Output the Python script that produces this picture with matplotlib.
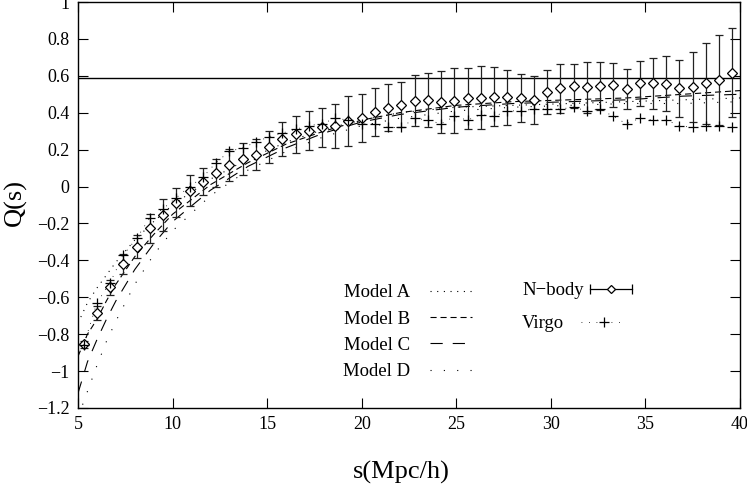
import matplotlib
matplotlib.use('Agg')
import numpy as np
import matplotlib.pyplot as plt
from matplotlib.lines import Line2D
from matplotlib.legend_handler import HandlerLine2D, HandlerTuple

plt.rcParams['font.family'] = ['Liberation Serif', 'DejaVu Serif']

# N-body measurements (separation bins, Q and 1-sigma errors)
s_bins = [5.3, 6.0, 6.7, 7.4, 8.1, 8.8, 9.5, 10.2, 10.9, 11.6,
          12.3, 13.0, 13.7, 14.4, 15.1, 15.8, 16.5, 17.2, 17.9, 18.6,
          19.3, 20.0, 20.7, 21.4, 22.1, 22.8, 23.5, 24.2, 24.9, 25.6,
          26.3, 27.0, 27.7, 28.4, 29.1, 29.8, 30.5, 31.2, 31.9, 32.6,
          33.3, 34.0, 34.7, 35.4, 36.1, 36.8, 37.5, 38.2, 38.9, 39.6]
q_nbody = [-0.855, -0.685, -0.545, -0.418, -0.326, -0.227, -0.154, -0.087, -0.022, 0.026,
           0.073, 0.117, 0.150, 0.172, 0.216, 0.259, 0.284, 0.303, 0.321, 0.330,
           0.357, 0.370, 0.404, 0.427, 0.442, 0.465, 0.469, 0.458, 0.465, 0.478,
           0.481, 0.487, 0.484, 0.478, 0.469, 0.511, 0.532, 0.545, 0.538, 0.545,
           0.550, 0.527, 0.559, 0.559, 0.556, 0.532, 0.541, 0.559, 0.577, 0.617]
err_nbody = [0.02, 0.04, 0.04, 0.055, 0.063, 0.077, 0.088, 0.08, 0.083, 0.073,
             0.075, 0.085, 0.085, 0.083, 0.086, 0.093, 0.10, 0.104, 0.107, 0.12,
             0.136, 0.13, 0.13, 0.128, 0.122, 0.139, 0.148, 0.17, 0.176, 0.167,
             0.17, 0.16, 0.15, 0.13, 0.128, 0.118, 0.133, 0.12, 0.137, 0.131,
             0.121, 0.108, 0.12, 0.14, 0.149, 0.155, 0.19, 0.22, 0.246, 0.24]

# Virgo simulation
q_virgo = [-0.86, -0.63, -0.52, -0.37, -0.28, -0.17, -0.12, -0.06, 0.00, 0.05,
           0.13, 0.19, 0.21, 0.24, 0.27, 0.29, 0.31, 0.33, 0.34, 0.37,
           0.36, 0.34, 0.34, 0.32, 0.32, 0.37, 0.36, 0.34, 0.38, 0.36,
           0.39, 0.38, 0.41, 0.41, 0.42, 0.42, 0.42, 0.43, 0.41, 0.42,
           0.38, 0.34, 0.37, 0.36, 0.36, 0.33, 0.32, 0.33, 0.33, 0.32]

# Model curves
s_model = [5.0, 5.5, 6.0, 6.5, 7.0, 8.0, 9.0, 10.0, 12.0, 14.0,
           16.0, 18.0, 20.0, 22.0, 25.0, 28.0, 31.0, 34.0, 37.0, 40.0]
q_model_a = [-0.74, -0.63, -0.55, -0.48, -0.41, -0.29, -0.19, -0.10, 0.04, 0.15,
             0.24, 0.31, 0.36, 0.40, 0.43, 0.44, 0.45, 0.46, 0.47, 0.48]
q_model_b = [-0.92, -0.80, -0.72, -0.62, -0.53, -0.38, -0.26, -0.15, 0.01, 0.13,
             0.23, 0.30, 0.36, 0.40, 0.44, 0.46, 0.47, 0.48, 0.50, 0.52]
q_model_c = [-1.12, -0.95, -0.83, -0.72, -0.62, -0.45, -0.31, -0.19, -0.02, 0.11,
             0.21, 0.29, 0.35, 0.39, 0.43, 0.45, 0.46, 0.47, 0.49, 0.50]
q_model_d = [-1.25, -1.11, -0.97, -0.84, -0.73, -0.53, -0.37, -0.24, -0.05, 0.09,
             0.19, 0.27, 0.33, 0.37, 0.41, 0.43, 0.44, 0.45, 0.45, 0.46]

q_ref = 0.59   # horizontal reference level

fig = plt.figure(figsize=(7.47, 4.93), dpi=100)
ax = fig.add_axes([78/747, 1 - 408/493, 662/747, 406/493])

# model curves
la, = ax.plot(s_model, q_model_a, color='k', lw=0.8, ls=(0, (1, 5)), label='Model A')
lb, = ax.plot(s_model, q_model_b, color='k', lw=0.8, ls=(0, (5.5, 3.5)), label='Model B')
lc, = ax.plot(s_model, q_model_c, color='k', lw=0.8, ls=(0, (11, 9)), label='Model C')
ld, = ax.plot(s_model, q_model_d, color='k', lw=0.8, ls=(0, (1, 11)), label='Model D')

# reference line
ax.axhline(q_ref, color='k', lw=1.0)

# N-body with error bars
ax.errorbar(s_bins, q_nbody, yerr=err_nbody, fmt='none', ecolor='#222222',
            elinewidth=0.9, capsize=3, capthick=0.9)
ax.plot(s_bins, q_nbody, ls='none', marker='D', ms=5.3, mfc='white', mec='k', mew=0.9)

# Virgo
lv, = ax.plot(s_bins, q_virgo, color='k', lw=0.6, ls=(0, (1, 8)),
              marker='+', ms=6.5, mew=0.9)

ax.set_xlim(5, 40)
ax.set_ylim(-1.2, 1.0)
ax.set_xticks([5, 10, 15, 20, 25, 30, 35, 40])
ax.set_yticks(np.arange(-1.2, 1.01, 0.2))
ax.set_yticklabels(['\u22121.2', '\u22121', '\u22120.8', '\u22120.6', '\u22120.4', '\u22120.2',
                    '0', '0.2', '0.4', '0.6', '0.8', '1'])
ax.tick_params(direction='in', length=7, width=0.8, top=True, right=True,
               labelsize=13, pad=6)
for sp in ax.spines.values():
    sp.set_linewidth(1.0)

ax.set_xlabel('s(Mpc/h)', fontsize=19)
ax.set_ylabel('Q(s)', fontsize=19)
ax.xaxis.set_label_coords(0.488, -0.13)
ax.yaxis.set_label_coords(-0.077, 0.505)

# legend: models
leg_kw = dict(loc='upper left', frameon=False, markerfirst=False, fontsize=13.5,
              borderpad=0, borderaxespad=0)
leg1 = ax.legend(handles=[la, lb, lc, ld], bbox_to_anchor=(0.400, 0.305),
                 handlelength=2.25, handletextpad=1.07, labelspacing=0.49, **leg_kw)
ax.add_artist(leg1)

# legend: N-body
nb_caps = Line2D([], [], color='k', lw=0.9, marker='|', ms=7, mew=0.9)
nb_pt = Line2D([], [], ls='none', marker='D', ms=4, mfc='white', mec='k', mew=0.9)
leg2 = ax.legend(handles=[(nb_caps, nb_pt)], labels=['N\u2212body'],
                 bbox_to_anchor=(0.671, 0.31), handlelength=2.8, handletextpad=0.05,
                 handler_map={nb_caps: HandlerLine2D(numpoints=2),
                              nb_pt: HandlerLine2D(numpoints=1),
                              tuple: HandlerTuple(ndivide=1, pad=0)},
                 **leg_kw)
ax.add_artist(leg2)

# legend: Virgo
ax.legend(handles=[lv], labels=['Virgo'], bbox_to_anchor=(0.671, 0.229),
          handlelength=2.4, handletextpad=0.9,
          handler_map={lv: HandlerLine2D(numpoints=1)}, **leg_kw)

fig.savefig('out.png', dpi=100)
